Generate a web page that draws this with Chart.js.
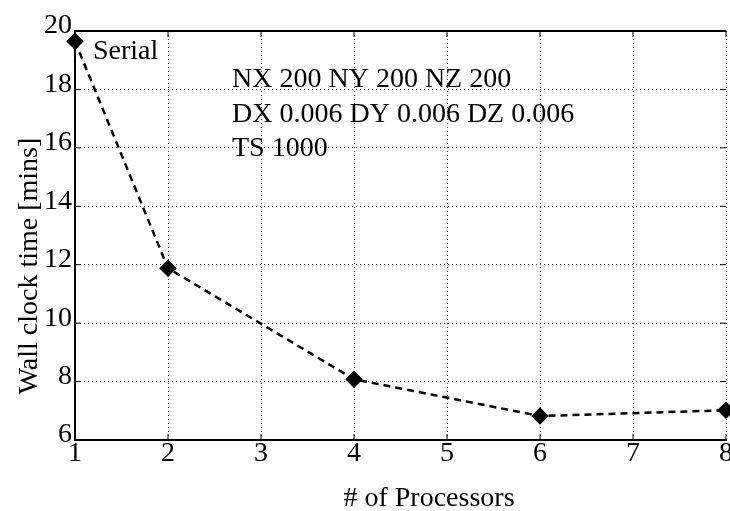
<!DOCTYPE html>
<html>
<head>
<meta charset="utf-8">
<script src="https://cdn.jsdelivr.net/npm/chart.js@4/dist/chart.umd.min.js"></script>
<style>
  html, body { margin: 0; padding: 0; background: #fff; }
  #wrap { width: 730px; height: 511px; }
</style>
</head>
<body>
<div id="wrap"><canvas id="speedup" width="730" height="511"></canvas></div>
<script>
// ----------- DATA -----------
const processors = [1, 2, 4, 6, 8];
const wallClockMins = [19.65, 11.88, 8.08, 6.82, 7.02];
const xTicks = [1, 2, 3, 4, 5, 6, 7, 8];
const yTicks = [6, 8, 10, 12, 14, 16, 18, 20];
const runInfo = ['NX 200 NY 200 NZ 200', 'DX 0.006 DY 0.006 DZ 0.006', 'TS 1000'];
const serialLabel = 'Serial';
const xTitle = '# of Processors';
const yTitle = 'Wall clock time [mins]';

const FONT = '"Liberation Serif", "Times New Roman", serif';

// ----------- FRAME, INWARD TICKS AND TEXT -----------
const frameAndText = {
  id: 'frameAndText',
  afterDraw(chart) {
    const { ctx, chartArea: a, scales: { x, y } } = chart;
    ctx.save();
    ctx.strokeStyle = '#000';
    ctx.lineWidth = 1;
    // inward tick marks like the original plot
    ctx.beginPath();
    xTicks.forEach(v => {
      const px = x.getPixelForValue(v);
      ctx.moveTo(px, a.bottom); ctx.lineTo(px, a.bottom - 6);
      ctx.moveTo(px, a.top); ctx.lineTo(px, a.top + 6);
    });
    yTicks.forEach(v => {
      const py = y.getPixelForValue(v);
      ctx.moveTo(a.left, py); ctx.lineTo(a.left + 6, py);
      ctx.moveTo(a.right, py); ctx.lineTo(a.right - 6, py);
    });
    ctx.stroke();
    // top border
    ctx.lineWidth = 2;
    ctx.beginPath();
    ctx.moveTo(a.left, a.top); ctx.lineTo(a.right, a.top);
    ctx.stroke();

    ctx.fillStyle = '#000';
    ctx.font = '28px ' + FONT;
    ctx.textBaseline = 'alphabetic';
    ctx.textAlign = 'left';
    ctx.fillText(serialLabel, a.left + 18, 59);
    runInfo.forEach((t, i) => ctx.fillText(t, a.left + 157, 87 + i * 34.5));

    // axis titles
    ctx.textAlign = 'center';
    ctx.fillText(xTitle, 429, 506);
    ctx.translate(37, 266);
    ctx.rotate(-Math.PI / 2);
    ctx.fillText(yTitle, 0, 0);
    ctx.restore();
  }
};

new Chart(document.getElementById('speedup'), {
  type: 'line',
  data: {
    datasets: [{
      data: processors.map((p, i) => ({ x: p, y: wallClockMins[i] })),
      borderColor: '#000',
      backgroundColor: '#000',
      borderWidth: 2.5,
      borderDash: [7, 5],
      pointStyle: 'rectRot',
      pointRadius: 7,
      pointHoverRadius: 7,
      tension: 0,
      clip: false,
    }],
  },
  options: {
    responsive: false,
    animation: false,
    events: [],
    layout: { autoPadding: false, padding: { top: 31, right: 0, left: 0, bottom: 0 } },
    plugins: { legend: { display: false }, tooltip: { enabled: false } },
    scales: {
      x: {
        type: 'linear',
        min: 1, max: 8,
        afterFit: s => { s.height = 71; },
        afterBuildTicks: s => { s.ticks = xTicks.map(v => ({ value: v })); },
        ticks: { color: '#000', font: { family: FONT, size: 28 }, padding: -3, maxRotation: 0 },
        grid: { color: '#444', lineWidth: 1, drawTicks: false },
        border: { display: true, color: '#000', width: 2, dash: [1, 3] },
      },
      y: {
        min: 6, max: 20,
        afterFit: s => { s.width = 75; },
        afterBuildTicks: s => { s.ticks = yTicks.map(v => ({ value: v })); },
        ticks: { color: '#000', font: { family: FONT, size: 28 }, padding: 3, labelOffset: -5 },
        grid: { color: '#444', lineWidth: 1, drawTicks: false },
        border: { display: true, color: '#000', width: 2, dash: [1, 3] },
      },
    },
  },
  plugins: [frameAndText],
});
</script>
</body>
</html>
